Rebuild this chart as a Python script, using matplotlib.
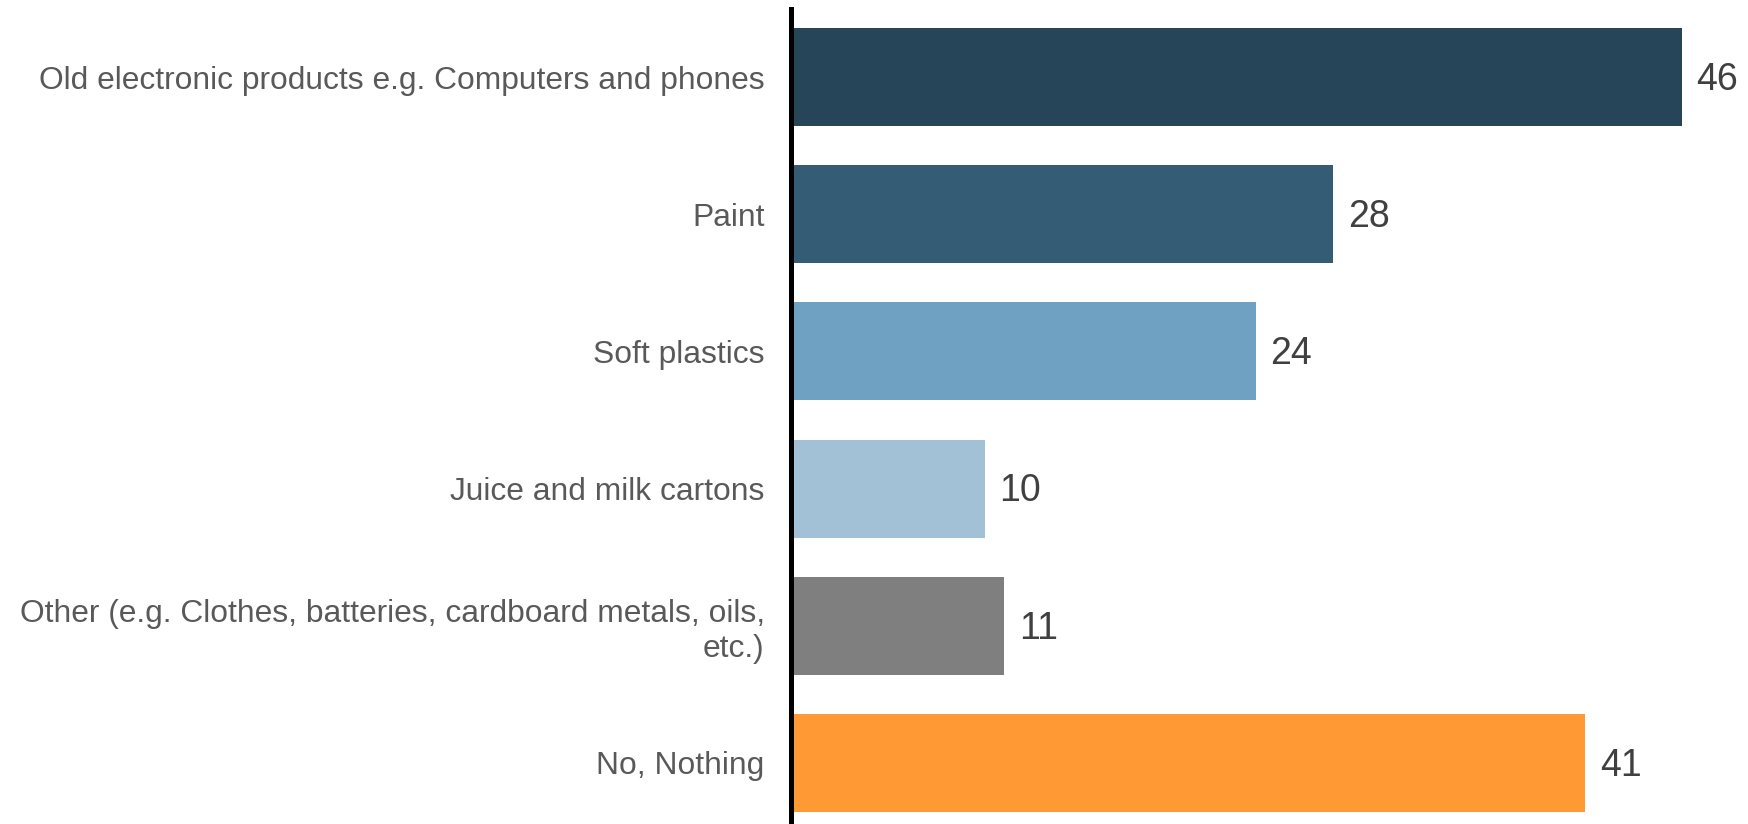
import matplotlib
matplotlib.use("Agg")
import matplotlib.pyplot as plt

categories = [
    "Old electronic products e.g. Computers and phones",
    "Paint",
    "Soft plastics",
    "Juice and milk cartons",
    "Other (e.g. Clothes, batteries, cardboard metals, oils,\netc.)",
    "No, Nothing",
]
values = [46, 28, 24, 10, 11, 41]
colors = ["#264559", "#345c75", "#6fa1c2", "#a2c1d6", "#7f7f7f", "#ff9933"]

plt.rcParams["font.family"] = ["Liberation Sans", "DejaVu Sans"]

fig = plt.figure(figsize=(17.49, 8.24), dpi=100)
ax = fig.add_axes([0.4523, 0.0, 0.5477, 0.989])

ypos = list(range(len(categories)))
bars = ax.barh(ypos, values, height=0.715, color=colors)

for bar, v in zip(bars, values):
    ax.text(bar.get_width() + 0.75, bar.get_y() + bar.get_height() / 2 + 0.02, str(v),
            va="center", ha="left", fontsize=27, color="#404040")

ax.set_yticks(ypos)
ax.set_yticklabels(categories, fontsize=22.9, color="#595959", ha="right")
ax.tick_params(axis="y", length=0, pad=19)
ax.set_xticks([])
ax.set_xlim(0, 49.46)
ax.set_ylim(5.445, -0.496)

for s in ["top", "right", "bottom"]:
    ax.spines[s].set_visible(False)
ax.spines["left"].set_linewidth(3.6)
ax.spines["left"].set_color("black")

fig.savefig("out.png", dpi=100)
